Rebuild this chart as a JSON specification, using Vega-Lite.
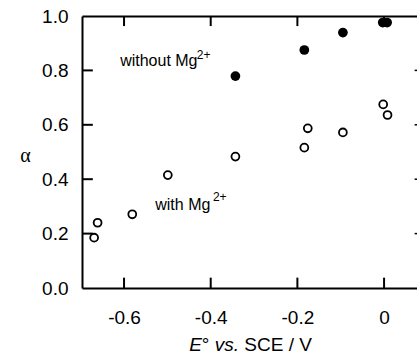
{
  "$schema": "https://vega.github.io/schema/vega-lite/v6.json",
  "width": 335,
  "height": 272,
  "autosize": "none",
  "padding": {"left": 82, "top": 16, "right": 0, "bottom": 68},
  "background": "white",
  "config": {
    "view": {"stroke": null},
    "axis": {"grid": false, "domainColor": "black", "tickColor": "black", "labelColor": "black", "titleColor": "black", "labelFont": "Liberation Sans", "labelFontSize": 19, "labelFlush": false, "labelOverlap": false}
  },
  "datasets": {
    "points": [
      {"E": -0.343, "alpha": 0.779, "series": "without Mg2+"},
      {"E": -0.184, "alpha": 0.875, "series": "without Mg2+"},
      {"E": -0.095, "alpha": 0.939, "series": "without Mg2+"},
      {"E": -0.003, "alpha": 0.976, "series": "without Mg2+"},
      {"E": 0.007, "alpha": 0.976, "series": "without Mg2+"},
      {"E": -0.176, "alpha": 0.587, "series": "with Mg2+"},
      {"E": -0.184, "alpha": 0.516, "series": "with Mg2+"},
      {"E": -0.095, "alpha": 0.572, "series": "with Mg2+"},
      {"E": -0.002, "alpha": 0.675, "series": "with Mg2+"},
      {"E": 0.008, "alpha": 0.636, "series": "with Mg2+"},
      {"E": -0.343, "alpha": 0.483, "series": "with Mg2+"},
      {"E": -0.499, "alpha": 0.415, "series": "with Mg2+"},
      {"E": -0.581, "alpha": 0.271, "series": "with Mg2+"},
      {"E": -0.661, "alpha": 0.24, "series": "with Mg2+"},
      {"E": -0.669, "alpha": 0.185, "series": "with Mg2+"}
    ],
    "xticks": [{"E": -0.6}, {"E": -0.4}, {"E": -0.2}, {"E": 0}],
    "yticks": [{"alpha": 0.2}, {"alpha": 0.4}, {"alpha": 0.6}, {"alpha": 0.8}],
    "labels": [
      {"E": -0.609, "alpha": 0.816, "text": "without Mg", "kind": "main"},
      {"E": -0.432, "alpha": 0.842, "text": "2+", "kind": "sup"},
      {"E": -0.528, "alpha": 0.287, "text": "with Mg", "kind": "main"},
      {"E": -0.395, "alpha": 0.321, "text": "2+", "kind": "sup"},
      {"E": -0.4498, "alpha": -0.232, "text": "E", "kind": "titleItalic"},
      {"E": -0.4205, "alpha": -0.232, "text": "°", "kind": "titleNormal"},
      {"E": -0.3908, "alpha": -0.232, "text": "vs.", "kind": "titleItalic"},
      {"E": -0.3225, "alpha": -0.232, "text": "SCE / V", "kind": "titleNormal"}
    ]
  },
  "resolve": {"axis": {"x": "independent", "y": "independent"}},
  "layer": [
    {
      "data": {"name": "xticks"},
      "mark": {"type": "rule", "color": "black", "strokeWidth": 2},
      "encoding": {
        "x": {"field": "E", "type": "quantitative", "scale": {"domain": [-0.697, 0.076], "nice": false, "zero": false},
          "axis": {"orient": "bottom", "values": [-0.6, -0.4, -0.2, 0], "labelExpr": "datum.value == 0 ? '0' : (datum.value < 0 ? '-' : '') + format(abs(datum.value), '.1f')", "ticks": false, "domainWidth": 2, "labelPadding": 20, "title": null}},
        "y": {"datum": 0, "type": "quantitative", "scale": {"domain": [0, 1], "nice": false},
          "axis": {"orient": "left", "values": [0, 0.2, 0.4, 0.6, 0.8, 1.0], "format": ".1f", "ticks": false, "domainWidth": 2, "labelPadding": 14,
            "title": "α", "titleAngle": 0, "titleFont": "Liberation Serif", "titleFontSize": 20, "titleFontWeight": "normal", "titleAlign": "center", "titleBaseline": "middle", "titleX": -57, "titleY": 139}},
        "y2": {"datum": 0.038}
      }
    },
    {
      "data": {"name": "xticks"},
      "mark": {"type": "rule", "color": "black", "strokeWidth": 2},
      "encoding": {
        "x": {"field": "E", "type": "quantitative",
          "axis": {"orient": "top", "values": [-0.6, -0.4, -0.2, 0], "labels": false, "ticks": false, "domainWidth": 2, "title": null}},
        "y": {"datum": 1, "type": "quantitative", "axis": null},
        "y2": {"datum": 0.963}
      }
    },
    {
      "data": {"name": "yticks"},
      "mark": {"type": "rule", "color": "black", "strokeWidth": 2},
      "encoding": {
        "y": {"field": "alpha", "type": "quantitative", "axis": null},
        "x": {"datum": -0.697, "type": "quantitative", "axis": null},
        "x2": {"datum": -0.672}
      }
    },
    {
      "data": {"name": "yticks"},
      "mark": {"type": "rule", "color": "black", "strokeWidth": 1.5},
      "encoding": {
        "y": {"field": "alpha", "type": "quantitative", "axis": null},
        "x": {"datum": 0.076, "type": "quantitative", "axis": null},
        "x2": {"datum": 0.0705}
      }
    },
    {
      "data": {"name": "points"},
      "transform": [{"filter": "datum.series == 'without Mg2+'"}],
      "mark": {"type": "point", "shape": "circle", "filled": true, "color": "black", "opacity": 1, "size": 95},
      "encoding": {
        "x": {"field": "E", "type": "quantitative", "axis": null},
        "y": {"field": "alpha", "type": "quantitative", "axis": null}
      }
    },
    {
      "data": {"name": "points"},
      "transform": [{"filter": "datum.series == 'with Mg2+'"}],
      "mark": {"type": "point", "shape": "circle", "filled": false, "stroke": "black", "strokeWidth": 1.8, "opacity": 1, "size": 62},
      "encoding": {
        "x": {"field": "E", "type": "quantitative", "axis": null},
        "y": {"field": "alpha", "type": "quantitative", "axis": null}
      }
    },
    {
      "data": {"name": "labels"},
      "transform": [{"filter": "datum.kind == 'main'"}],
      "mark": {"type": "text", "align": "left", "baseline": "alphabetic", "font": "Liberation Sans", "fontSize": 16, "color": "black"},
      "encoding": {
        "x": {"field": "E", "type": "quantitative", "axis": null},
        "y": {"field": "alpha", "type": "quantitative", "axis": null},
        "text": {"field": "text"}
      }
    },
    {
      "data": {"name": "labels"},
      "transform": [{"filter": "datum.kind == 'sup'"}],
      "mark": {"type": "text", "align": "left", "baseline": "alphabetic", "font": "Liberation Sans", "fontSize": 12, "color": "black"},
      "encoding": {
        "x": {"field": "E", "type": "quantitative", "axis": null},
        "y": {"field": "alpha", "type": "quantitative", "axis": null},
        "text": {"field": "text"}
      }
    },
    {
      "data": {"name": "labels"},
      "transform": [{"filter": "datum.kind == 'titleItalic'"}],
      "mark": {"type": "text", "align": "left", "baseline": "alphabetic", "font": "Liberation Sans", "fontSize": 19, "fontStyle": "italic", "color": "black"},
      "encoding": {
        "x": {"field": "E", "type": "quantitative", "axis": null},
        "y": {"field": "alpha", "type": "quantitative", "axis": null},
        "text": {"field": "text"}
      }
    },
    {
      "data": {"name": "labels"},
      "transform": [{"filter": "datum.kind == 'titleNormal'"}],
      "mark": {"type": "text", "align": "left", "baseline": "alphabetic", "font": "Liberation Sans", "fontSize": 19, "color": "black"},
      "encoding": {
        "x": {"field": "E", "type": "quantitative", "axis": null},
        "y": {"field": "alpha", "type": "quantitative", "axis": null},
        "text": {"field": "text"}
      }
    }
  ]
}
